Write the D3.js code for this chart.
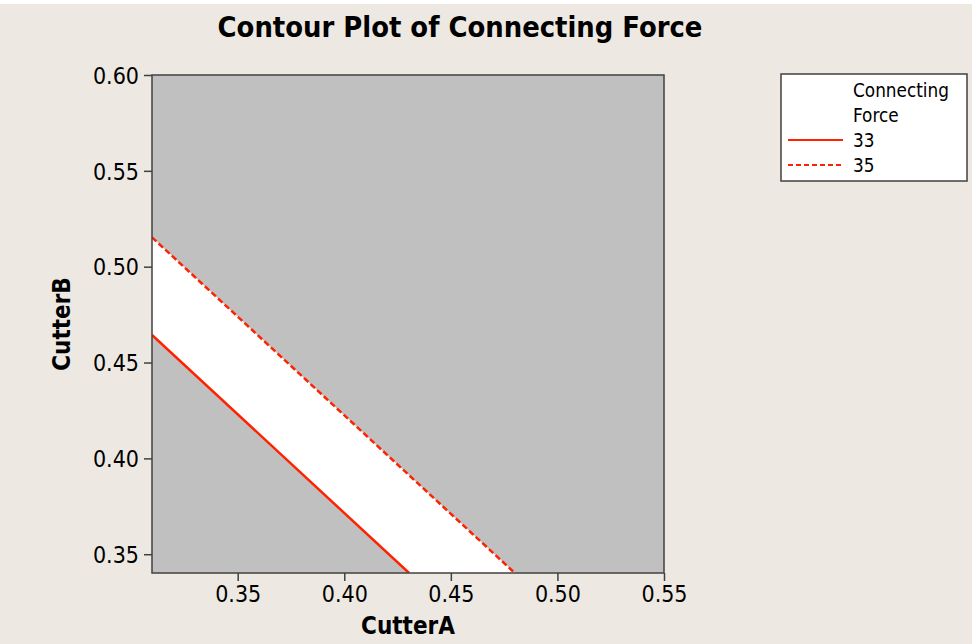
<!DOCTYPE html>
<html>
<head>
<meta charset="utf-8">
<script src="https://cdn.jsdelivr.net/npm/d3@7"></script>
<style>
  html, body { margin: 0; padding: 0; background: #ede9e2; }
  svg { display: block; }
  text { font-family: "DejaVu Sans Condensed", "DejaVu Sans", sans-serif; fill: #000; }
</style>
</head>
<body>
<div class="chart"></div>
<script>
// Data.
const xDomain = [0.3098, 0.55];
const yDomain = [0.3402, 0.60];
const xTicks = [0.35, 0.40, 0.45, 0.50, 0.55];
const yTicks = [0.35, 0.40, 0.45, 0.50, 0.55, 0.60];
const levels = [33, 35];
const line33 = [{ a: 0.3098, b: 0.4644 }, { a: 0.4304, b: 0.3402 }];
const line35 = [{ a: 0.3098, b: 0.5153 }, { a: 0.4800, b: 0.3402 }];

const chart = {};

chart.draw = function() {
  const W = 972, H = 644;
  const margin = { top: 75, right: 308, bottom: 71, left: 152 };
  const width = W - margin.left - margin.right;
  const height = H - margin.top - margin.bottom;

  const xScale = d3.scaleLinear().domain(xDomain).range([0, width]);
  const yScale = d3.scaleLinear().domain(yDomain).range([height, 0]);

  const root = d3.select('.chart')
    .append('svg')
    .attr('width', W)
    .attr('height', H);

  root.append('rect')
    .attr('width', W).attr('height', H)
    .attr('fill', '#ede9e2');
  root.append('rect')
    .attr('width', W).attr('height', 4)
    .attr('fill', '#ffffff');

  // Title.
  root.append('text')
    .attr('x', 460).attr('y', 37)
    .attr('text-anchor', 'middle')
    .style('font-size', '28.8px')
    .style('font-weight', 'bold')
    .text('Contour Plot of Connecting Force');

  const svg = root.append('g')
    .attr('transform', `translate(${margin.left}, ${margin.top})`);

  svg.append('clipPath').attr('id', 'plot-clip')
    .append('rect').attr('width', width).attr('height', height);

  // Grey background region (outside the band).
  svg.append('rect')
    .attr('width', width).attr('height', height)
    .attr('fill', '#c0c0c0');

  // White band between the two contour levels.
  const band = line33.concat(line35.slice().reverse());
  svg.append('path')
    .attr('clip-path', 'url(#plot-clip)')
    .attr('d', d3.line().x(d => xScale(d.a)).y(d => yScale(d.b))(band) + 'Z')
    .attr('fill', '#ffffff');

  const lineGen = d3.line().x(d => xScale(d.a)).y(d => yScale(d.b));
  const series = [
    { level: levels[0], values: line33, dash: null },
    { level: levels[1], values: line35, dash: '6,3' }
  ];

  svg.append('g').attr('clip-path', 'url(#plot-clip)')
    .selectAll('.contour')
    .data(series)
    .enter()
    .append('path')
    .attr('class', 'contour')
    .attr('d', d => lineGen(d.values))
    .attr('fill', 'none')
    .attr('stroke', '#ff2200')
    .attr('stroke-width', 2.5)
    .attr('stroke-dasharray', d => d.dash);

  // Frame.
  svg.append('rect')
    .attr('width', width).attr('height', height)
    .attr('fill', 'none')
    .attr('stroke', '#404040')
    .attr('stroke-width', 1.5);

  // Axes.
  const xAxis = d3.axisBottom(xScale)
    .tickValues(xTicks)
    .tickFormat(d3.format('.2f'))
    .tickSize(8)
    .tickSizeOuter(0)
    .tickPadding(5);
  const xg = svg.append('g')
    .attr('transform', `translate(0, ${height})`)
    .call(xAxis);

  const yAxis = d3.axisLeft(yScale)
    .tickValues(yTicks)
    .tickFormat(d3.format('.2f'))
    .tickSize(8)
    .tickSizeOuter(0)
    .tickPadding(5);
  const yg = svg.append('g').call(yAxis);

  [xg, yg].forEach(g => {
    g.select('.domain').remove();
    g.selectAll('line').attr('stroke', '#404040').attr('stroke-width', 1.5);
    g.selectAll('text')
      .style('font-size', '23px')
      .style('font-family', '"DejaVu Sans Condensed", "DejaVu Sans", sans-serif')
      .attr('fill', '#000');
  });
  yg.selectAll('text').attr('dy', '0.36em');

  // Axis titles.
  svg.append('text')
    .attr('x', width / 2).attr('y', height + 61)
    .attr('text-anchor', 'middle')
    .style('font-size', '24px')
    .style('font-weight', 'bold')
    .text('CutterA');

  svg.append('text')
    .attr('transform', `translate(-82, ${height / 2}) rotate(-90)`)
    .attr('text-anchor', 'middle')
    .style('font-size', '24px')
    .style('font-weight', 'bold')
    .text('CutterB');

  // Legend.
  const legend = root.append('g').attr('transform', 'translate(781, 74)');
  legend.append('rect')
    .attr('width', 186).attr('height', 107)
    .attr('fill', '#ffffff')
    .attr('stroke', '#404040')
    .attr('stroke-width', 1.5);
  ['Connecting', 'Force'].forEach((t, i) => {
    legend.append('text')
      .attr('x', 72).attr('y', 23 + i * 25)
      .style('font-size', '18.8px')
      .attr('fill', '#222')
      .text(t);
  });
  const items = legend.selectAll('.legend-item')
    .data(series)
    .enter()
    .append('g')
    .attr('class', 'legend-item')
    .attr('transform', (d, i) => `translate(0, ${66 + i * 25})`);
  items.append('line')
    .attr('x1', 7).attr('x2', 62)
    .attr('y1', 0).attr('y2', 0)
    .attr('stroke', '#ff2200')
    .attr('stroke-width', 2)
    .attr('stroke-dasharray', d => d.dash ? '5,3' : null);
  items.append('text')
    .attr('x', 72).attr('y', 0)
    .attr('dy', '0.36em')
    .style('font-size', '18.8px')
    .attr('fill', '#222')
    .text(d => d.level);
};

chart.draw();
</script>
</body>
</html>
